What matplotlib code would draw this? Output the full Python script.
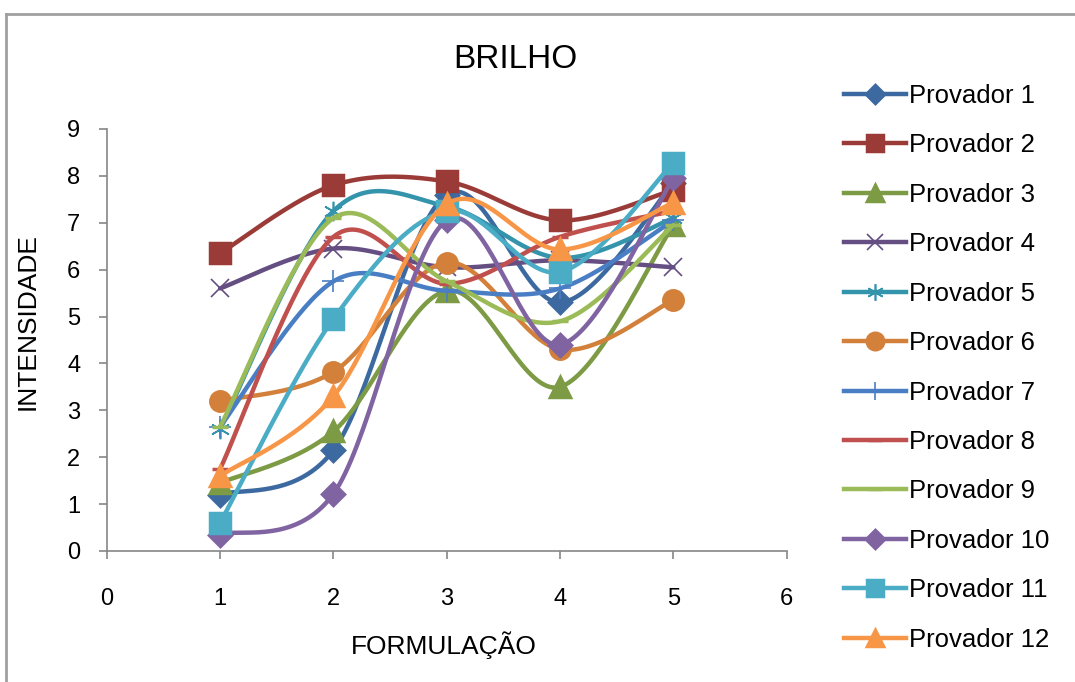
import numpy as np
import matplotlib.pyplot as plt
from matplotlib.lines import Line2D

# Dados
formulacao = [1, 2, 3, 4, 5]
p1 = [1.2, 2.15, 7.6, 5.3, 7.85]
p2 = [6.35, 7.8, 7.88, 7.05, 7.7]
p3 = [1.45, 2.55, 5.55, 3.5, 6.95]
p4 = [5.6, 6.45, 6.05, 6.2, 6.05]
p5 = [2.6, 7.25, 7.35, 6.25, 7.1]
p6 = [3.2, 3.82, 6.15, 4.3, 5.35]
p7 = [2.65, 5.75, 5.55, 5.6, 7.05]
p8 = [1.75, 6.7, 5.7, 6.7, 7.25]
p9 = [2.65, 7.1, 5.75, 4.9, 6.95]
p10 = [0.35, 1.22, 7.05, 4.4, 7.95]
p11 = [0.6, 4.95, 7.25, 5.95, 8.28]
p12 = [1.6, 3.3, 7.4, 6.43, 7.43]

series = [p1, p2, p3, p4, p5, p6, p7, p8, p9, p10, p11, p12]
nomes = ['Provador %d' % (i + 1) for i in range(12)]
cores = ['#3C6AA0', '#9B3B38', '#7D9A45', '#644E82', '#3394AB', '#D2803A',
         '#4A7EC4', '#C0504D', '#9BBB59', '#8064A2', '#4BACC6', '#F79646']
marcadores = ['D', 's', '^', 'x', (6, 2, 0), 'o', '+', '_', '_', 'D', 's', '^']
tamanhos = [11, 14, 14, 13, 14, 14, 16, 12, 12, 11, 14, 14]


# Linha suavizada tipo Excel (Bezier com tangentes de Catmull-Rom)
def suavizar(x, y, n=40):
    x = np.asarray(x, float)
    y = np.asarray(y, float)
    px = np.concatenate([[x[0]], x, [x[-1]]])
    py = np.concatenate([[y[0]], y, [y[-1]]])
    xs, ys = [], []
    t = np.linspace(0, 1, n)
    for i in range(1, len(x)):
        p0 = np.array([px[i], py[i]])
        p3 = np.array([px[i + 1], py[i + 1]])
        c1 = p0 + (np.array([px[i + 1], py[i + 1]]) - np.array([px[i - 1], py[i - 1]])) / 6
        c2 = p3 - (np.array([px[i + 2], py[i + 2]]) - np.array([px[i], py[i]])) / 6
        b = ((1 - t) ** 3)[:, None] * p0 + (3 * (1 - t) ** 2 * t)[:, None] * c1 \
            + (3 * (1 - t) * t ** 2)[:, None] * c2 + (t ** 3)[:, None] * p3
        xs.extend(b[:, 0])
        ys.extend(b[:, 1])
    return np.array(xs), np.array(ys)


plt.rcParams['font.family'] = ['Liberation Sans', 'DejaVu Sans']

fig = plt.figure(figsize=(10.75, 6.82), dpi=100)
ax = fig.add_axes([0.0993, 0.1921, 0.6326, 0.6188])

handles = []
for i, (y, c, m, s) in enumerate(zip(series, cores, marcadores, tamanhos)):
    xs, ys = suavizar(formulacao, y)
    ax.plot(xs, ys, color=c, lw=3.2, solid_capstyle='round', zorder=2 + i)
    mew = 1.2 if m in ('x', '+', (6, 2, 0)) else 2.5
    ax.plot(formulacao, y, ls='none', marker=m, ms=s, color=c, mec=c, mew=mew,
            zorder=2 + i)
    handles.append(Line2D([0], [0], color=c, lw=3.2, marker=m, ms=s * 0.85,
                          mec=c, mew=mew))

ax.set_xlim(0, 6)
ax.set_ylim(0, 9)
ax.set_xticks(range(0, 7))
ax.set_yticks(range(0, 10))
for lado in ['top', 'right']:
    ax.spines[lado].set_visible(False)
for lado in ['left', 'bottom']:
    ax.spines[lado].set_color('#868686')
    ax.spines[lado].set_linewidth(1.2)
ax.tick_params(axis='both', colors='#868686', labelcolor='black', labelsize=17,
               length=6, width=1.2)
ax.tick_params(axis='y', pad=13)
ax.tick_params(axis='x', pad=21)

fig.text(0.479, 0.913, 'BRILHO', fontsize=24, ha='center', va='center')
fig.text(0.4125, 0.054, 'FORMULAÇÃO', fontsize=19, ha='center', va='center')
fig.text(0.026, 0.528, 'INTENSIDADE', fontsize=19, ha='center', va='center',
         rotation=90)

fig.legend(handles, nomes, loc='upper left', bbox_to_anchor=(0.785, 0.877),
           frameon=False, fontsize=18.5, handlelength=2.4, handletextpad=0.12,
           labelspacing=0.99, borderpad=0, borderaxespad=0)

# moldura cinza do gráfico
fig.add_artist(Line2D([6 / 1075, 6 / 1075], [0, 1 - 14 / 682], color='#A0A0A0',
                      lw=2, transform=fig.transFigure))
fig.add_artist(Line2D([6 / 1075, 1], [1 - 14 / 682, 1 - 14 / 682], color='#A0A0A0',
                      lw=2, transform=fig.transFigure))

fig.savefig('out.png', dpi=100)
